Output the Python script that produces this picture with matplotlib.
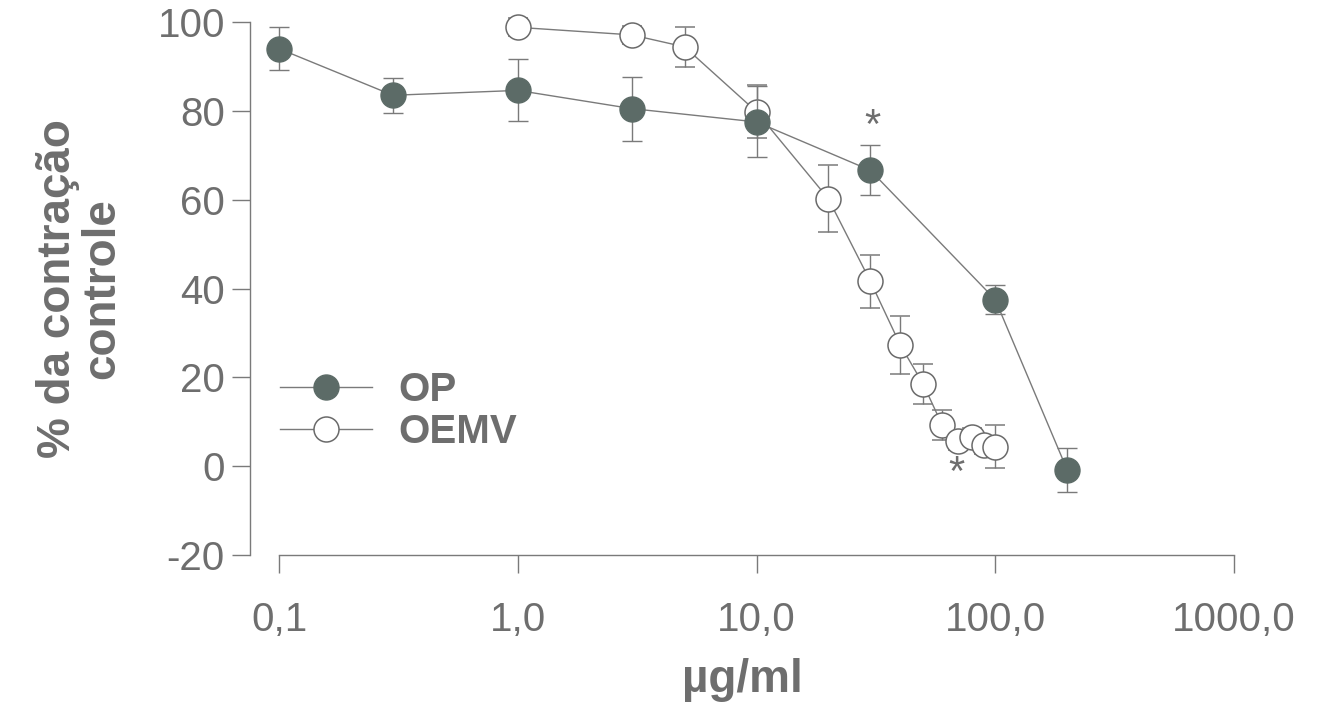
import matplotlib
matplotlib.use("Agg")
import matplotlib.pyplot as plt
from matplotlib.ticker import FixedLocator, FixedFormatter, NullLocator

plt.rcParams['font.family'] = ['Liberation Sans', 'DejaVu Sans']
plt.rcParams['axes.unicode_minus'] = False

# ---- data ----
op_x = [0.1, 0.3, 1.0, 3.0, 10.0, 30.0, 100.0, 200.0]
op_y = [94.0, 83.5, 84.6, 80.5, 77.5, 66.6, 37.5, -0.8]
op_err = [4.8, 4.0, 7.0, 7.2, 8.0, 5.6, 3.2, 5.0]

oemv_x = [1.0, 3.0, 5.0, 10.0, 20.0, 30.0, 40.0, 50.0, 60.0, 70.0, 80.0, 90.0, 100.0]
oemv_y = [98.8, 97.1, 94.4, 79.8, 60.2, 41.6, 27.3, 18.4, 9.2, 5.6, 6.5, 4.8, 4.4]
oemv_err = [2.0, 2.0, 4.5, 6.0, 7.5, 6.0, 6.6, 4.5, 3.4, 2.0, 2.0, 2.0, 4.8]

x_ticks = [0.1, 1.0, 10.0, 100.0, 1000.0]
x_tick_labels = ["0,1", "1,0", "10,0", "100,0", "1000,0"]
y_ticks = [-20, 0, 20, 40, 60, 80, 100]

star_x = [30.6, 69.0]
star_y = [76.3, -1.8]

labels = ["OP", "OEMV"]
y_label = "% da contração\ncontrole"
x_label = "µg/ml"

# ---- style ----
line_col = "#7a7a7a"
text_col = "#6e6e6e"
fill_col = "#5c6b67"

fig = plt.figure(figsize=(13.22, 7.19), dpi=100)
ax = fig.add_axes([250 / 1322, 1 - 555 / 719, 984 / 1322, 533 / 719])
ax.set_xscale("log")
ax.set_xlim(0.0756, 1000)
ax.set_ylim(-20, 100)

common = dict(lw=1.0, capsize=7, elinewidth=1.0, capthick=1.0, markersize=18,
              clip_on=False)
e2 = ax.errorbar(oemv_x, oemv_y, yerr=oemv_err, fmt="-o", color=line_col,
                 ecolor=line_col, mfc="white", mec="#6a6a6a", mew=1.1,
                 zorder=3, **common)
e1 = ax.errorbar(op_x, op_y, yerr=op_err, fmt="-o", color=line_col,
                 ecolor=line_col, mfc=fill_col, mec=fill_col, mew=1.0,
                 zorder=4, **common)
for c in (e1, e2):
    for art in list(c.lines[1]) + list(c.lines[2]):
        art.set_clip_on(False)

for sx, sy in zip(star_x, star_y):
    ax.text(sx, sy, "*", ha="center", va="center", fontsize=30,
            color=text_col)

for s in ("top", "right"):
    ax.spines[s].set_visible(False)
for s in ("left", "bottom"):
    ax.spines[s].set_color(line_col)
    ax.spines[s].set_linewidth(1.0)
ax.spines["bottom"].set_bounds(0.1, 1000)

ax.xaxis.set_major_locator(FixedLocator(x_ticks))
ax.xaxis.set_major_formatter(FixedFormatter(x_tick_labels))
ax.xaxis.set_minor_locator(NullLocator())
ax.set_yticks(y_ticks)
ax.tick_params(axis="both", which="major", direction="out", length=13,
               width=1.0, color=line_col, labelcolor=text_col, labelsize=29)
ax.tick_params(axis="x", pad=20)
ax.tick_params(axis="y", pad=5)

ax.set_ylabel(y_label, fontsize=33, fontweight="bold", color=text_col,
              labelpad=24, linespacing=1.0)
ax.set_xlabel(x_label, fontsize=33, fontweight="bold", color=text_col,
              labelpad=14)

leg = ax.legend([e1[0], e2[0]], labels, loc="center left",
                bbox_to_anchor=(0.03, 0.27), frameon=False, numpoints=1,
                handlelength=2.3, handletextpad=0.65, labelspacing=0.1,
                borderpad=0, borderaxespad=0, prop=dict(size=29, weight="bold"))
for t in leg.get_texts():
    t.set_color(text_col)

fig.savefig("out.png", dpi=100, facecolor="white")
